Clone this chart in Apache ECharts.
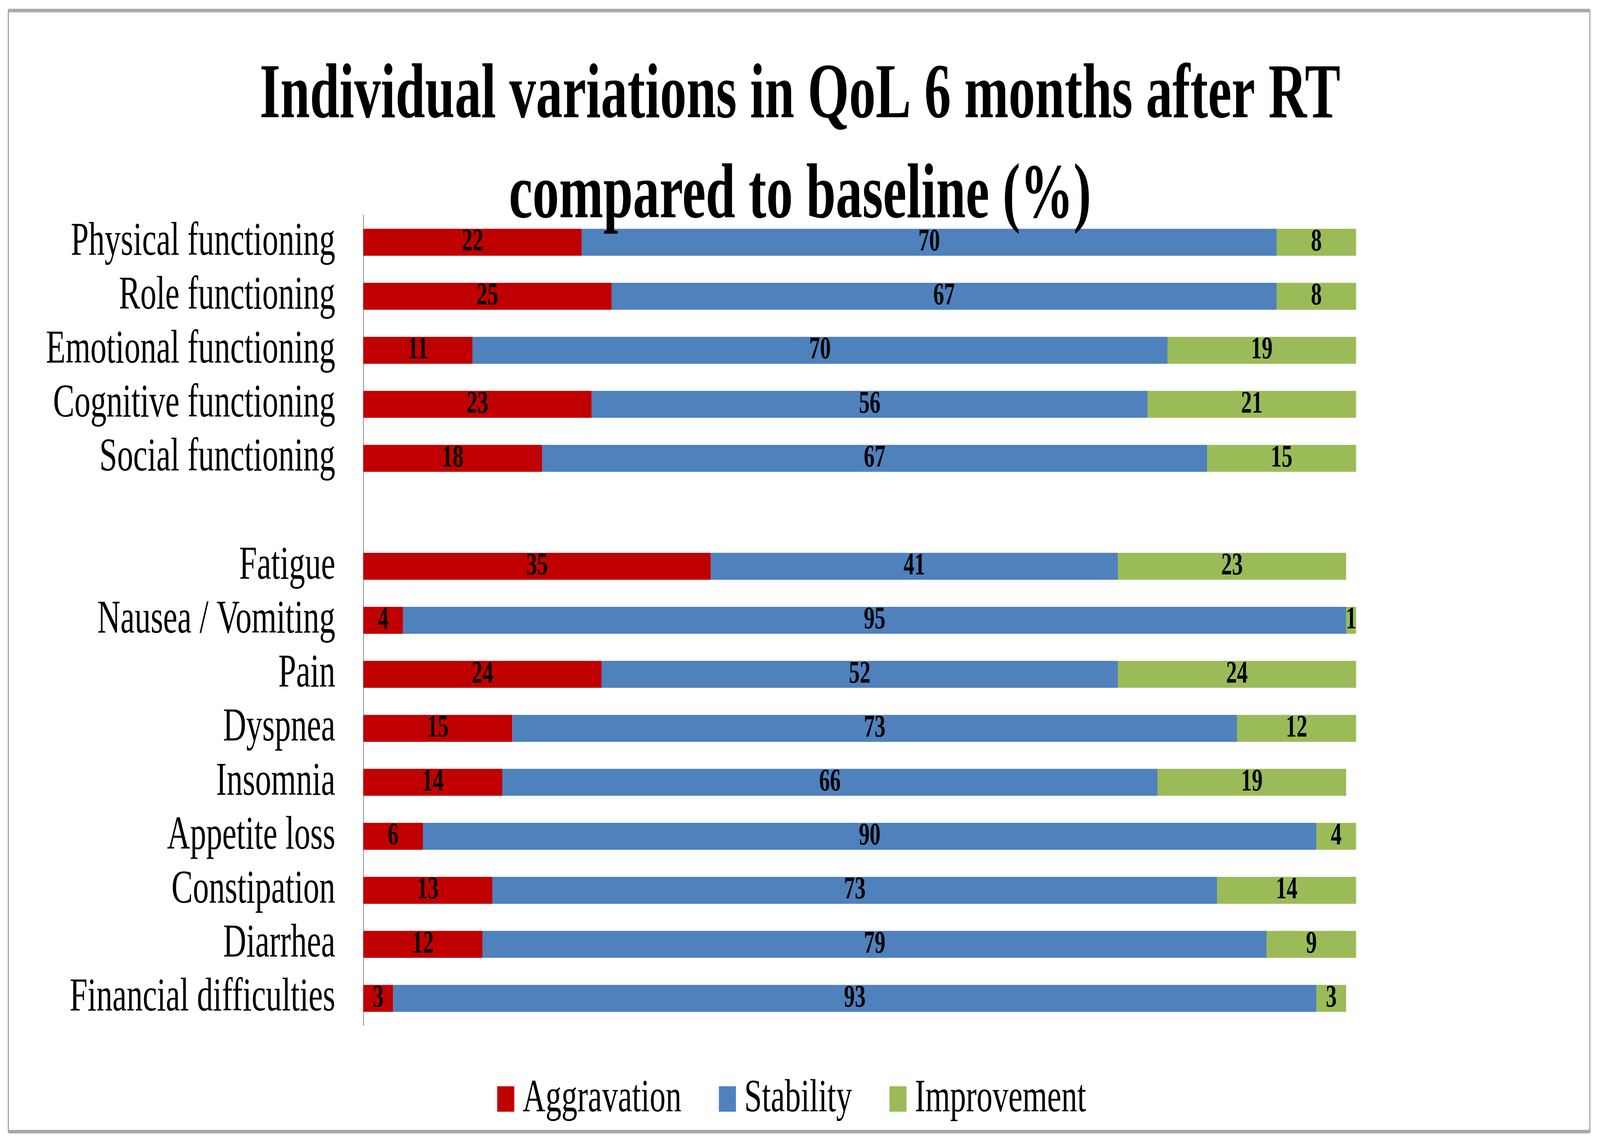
<!DOCTYPE html>
<html>
<head>
<meta charset="utf-8">
<script src="https://cdn.jsdelivr.net/npm/echarts@6/dist/echarts.min.js"></script>
<style>
html,body{margin:0;padding:0;background:#fff;overflow:hidden;}
#chart{width:5989px;height:2920px;transform-origin:0 0;}
</style>
</head>
<body>
<div id="chart"></div>
<script>
const categories = ['Physical functioning','Role functioning','Emotional functioning','Cognitive functioning','Social functioning','','Fatigue','Nausea / Vomiting','Pain','Dyspnea','Insomnia','Appetite loss','Constipation','Diarrhea','Financial difficulties'];
const aggravation = [22,25,11,23,18,null,35,4,24,15,14,6,13,12,3];
const stability   = [70,67,70,56,67,null,41,95,52,73,66,90,73,79,93];
const improvement = [8,8,19,21,15,null,23,1,24,12,19,4,14,9,3];
const seriesNames = ['Aggravation','Stability','Improvement'];
const colors = ['#C00000','#4F81BD','#9BBB59'];

// Fit the 5989x2920 design into whatever viewport the browser actually provides
const el = document.getElementById('chart');
const sx = (window.innerWidth || 5989) / 5989;
const sy = (window.innerHeight || 2920) / 2920;
el.style.transform = 'scale(' + sx + ',' + sy + ')';

const FONT = '"Liberation Serif", "DejaVu Serif", serif';
const chart = echarts.init(el);

function mk(name, data, color) {
  return {
    name: name, type: 'bar', stack: 'total', data: data, barWidth: 69,
    itemStyle: { color: color },
    label: { show: true, position: 'inside', color: '#000', fontFamily: FONT, fontWeight: 'bold', fontSize: 81 },
    emphasis: { disabled: true }
  };
}

chart.setOption({
  animation: false,
  backgroundColor: '#fff',
  title: {
    text: 'Individual variations in QoL 6 months after RT\ncompared to baseline (%)',
    left: 'center', top: 116,
    textStyle: { fontFamily: FONT, fontWeight: 'bold', fontSize: 199, lineHeight: 256, color: '#000' }
  },
  legend: {
    data: seriesNames, left: 1856, top: 2748, itemWidth: 64, itemHeight: 65, itemGap: 140,
    icon: 'rect',
    textStyle: { fontFamily: FONT, fontSize: 119, color: '#000', padding: [0, 0, 0, 26] }
  },
  grid: { left: 1360, right: 913, top: 551, bottom: 296, containLabel: false },
  xAxis: { type: 'value', min: 0, max: 100, show: false },
  yAxis: {
    type: 'category', data: categories, inverse: true,
    axisLine: { show: true, lineStyle: { color: '#888', width: 3 } },
    axisTick: { show: false },
    axisLabel: { interval: 0, fontFamily: FONT, fontSize: 120, color: '#000', margin: 105 }
  },
  series: [mk(seriesNames[0], aggravation, colors[0]), mk(seriesNames[1], stability, colors[1]), mk(seriesNames[2], improvement, colors[2])],
  graphic: [
    { type: 'rect', shape: { x: 31, y: 27, width: 5920, height: 2869 }, style: { fill: 'none', stroke: '#9a9a9a', lineWidth: 4 }, z: 0 },
    { type: 'line', shape: { x1: 31, y1: 27, x2: 5951, y2: 27 }, style: { stroke: '#a8a8a8', lineWidth: 9 }, z: 0 },
    { type: 'line', shape: { x1: 31, y1: 2896, x2: 5951, y2: 2896 }, style: { stroke: '#a8a8a8', lineWidth: 9 }, z: 0 }
  ]
});
</script>
</body>
</html>
